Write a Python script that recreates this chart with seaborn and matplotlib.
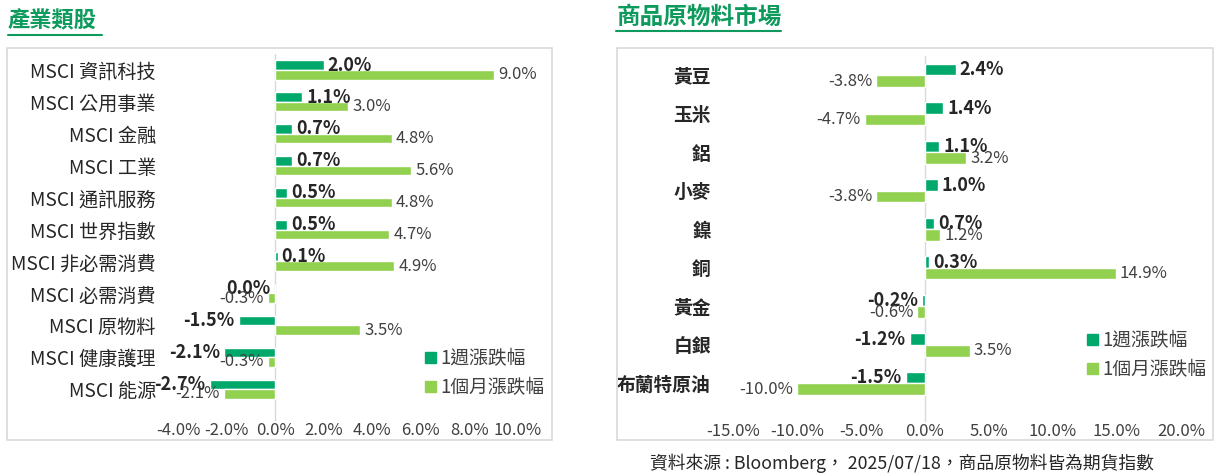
import numpy as np
import pandas as pd
import matplotlib
matplotlib.use('Agg')
import matplotlib.pyplot as plt
import seaborn as sns
from matplotlib.patches import Rectangle, Patch
from matplotlib.lines import Line2D

# data
sector_names = ['MSCI 資訊科技', 'MSCI 公用事業', 'MSCI 金融', 'MSCI 工業', 'MSCI 通訊服務',
                'MSCI 世界指數', 'MSCI 非必需消費', 'MSCI 必需消費', 'MSCI 原物料',
                'MSCI 健康護理', 'MSCI 能源']
sector_week = [2.0, 1.1, 0.7, 0.7, 0.5, 0.5, 0.1, 0.0, -1.5, -2.1, -2.7]
sector_month = [9.0, 3.0, 4.8, 5.6, 4.8, 4.7, 4.9, -0.3, 3.5, -0.3, -2.1]

comm_names = ['黃豆', '玉米', '鋁', '小麥', '鎳', '銅', '黃金', '白銀', '布蘭特原油']
comm_week = [2.4, 1.4, 1.1, 1.0, 0.7, 0.3, -0.2, -1.2, -1.5]
comm_month = [-3.8, -4.7, 3.2, -3.8, 1.2, 14.9, -0.6, 3.5, -10.0]

series_names = ['1週漲跌幅', '1個月漲跌幅']
sector_ticks = [-4, -2, 0, 2, 4, 6, 8, 10]
comm_ticks = [-15, -10, -5, 0, 5, 10, 15, 20]

c_week = '#00A86B'
c_month = '#92D050'
c_title = '#0E9A5C'
c_text = '#404040'

sns.set_style('white')
plt.rcParams['font.family'] = ['Noto Sans CJK TC', 'DejaVu Sans']

W, H = 1219, 475
fig = plt.figure(figsize=(W / 100, H / 100), dpi=100)


def px(x0, y0, x1, y1):
    # pixel box (top-left origin) -> figure fraction rect
    return [x0 / W, 1 - y1 / H, (x1 - x0) / W, (y1 - y0) / H]


def draw_panel(rect, names, week, month, ticks, lim, name_size, name_weight):
    ax = fig.add_axes(rect)
    df = pd.DataFrame({'name': names * 2,
                       'val': week + month,
                       'series': [series_names[0]] * len(names) + [series_names[1]] * len(names)})
    sns.barplot(data=df, y='name', x='val', hue='series', hue_order=series_names,
                palette=[c_week, c_month], orient='h', width=0.6, legend=False, ax=ax,
                saturation=1)
    ax.set_xlim(*lim)
    ax.set_ylim(len(names), -0.5)
    ax.axvline(0, color='#d9d9d9', lw=1, zorder=0)
    for s in ax.spines.values():
        s.set_visible(False)
    ax.set_xticks(ticks)
    ax.set_xticklabels([f'{t:.1f}%' for t in ticks], fontsize=12, color=c_text)
    ax.tick_params(axis='x', length=0, pad=1)
    ax.tick_params(axis='y', length=0, pad=16)
    for lab in ax.get_yticklabels():
        lab.set_fontsize(name_size)
        lab.set_color('#262626')
        lab.set_fontweight(name_weight)
    ax.set_xlabel('')
    ax.set_ylabel('')
    # data labels at the bar ends
    for ci, cont in enumerate(ax.containers):
        vals = week if ci == 0 else month
        for bar, v in zip(cont, vals):
            yc = bar.get_y() + bar.get_height() / 2
            x0 = bar.get_x()
            x1 = bar.get_x() + bar.get_width()
            left = v <= 0
            ax.annotate(f'{v:.1f}%', (min(x0, x1) if left else max(x0, x1), yc),
                        xytext=(-3 if left else 3, 0), textcoords='offset points',
                        ha='right' if left else 'left', va='center',
                        fontsize=13 if ci == 0 else 12,
                        fontweight='bold' if ci == 0 else 'normal',
                        color='#262626' if ci == 0 else c_text, zorder=5)
    return ax


ax1 = draw_panel(px(178, 54, 518, 421), sector_names, sector_week, sector_month,
                 sector_ticks, (-4, 10), 13.8, 'normal')
ax2 = draw_panel(px(733, 56, 1181, 422), comm_names, comm_week, comm_month,
                 comm_ticks, (-15, 20), 13.5, 'bold')

# panel frames
for x0, x1 in [(7, 552), (617, 1213)]:
    fig.patches.append(Rectangle((x0 / W, 1 - 440 / H), (x1 - x0) / W, (440 - 48) / H,
                                 transform=fig.transFigure, fill=False,
                                 edgecolor='#d9d9d9', lw=1.2))

# titles with underline
fig.text(8 / W, 1 - 20 / H, '產業類股', fontsize=16, fontweight='bold', color=c_title,
         va='center', ha='left')
fig.lines.append(Line2D([8 / W, 102 / W], [1 - 35 / H] * 2, color=c_title, lw=1.5,
                        transform=fig.transFigure))
fig.text(617 / W, 1 - 17 / H, '商品原物料市場', fontsize=17, fontweight='bold', color=c_title,
         va='center', ha='left')
fig.lines.append(Line2D([616 / W, 781 / W], [1 - 31 / H] * 2, color=c_title, lw=1.5,
                        transform=fig.transFigure))

# legends
handles = [Patch(color=c_week), Patch(color=c_month)]
for lx, ly in [(416, 339), (1078, 321)]:
    fig.legend(handles, series_names, loc='upper left', bbox_to_anchor=(lx / W, 1 - ly / H),
               frameon=False, fontsize=13.5, handlelength=0.55, handleheight=0.55,
               handletextpad=0.25, labelspacing=0.42, borderpad=0, labelcolor=c_text)

# source note
fig.text(650 / W, 1 - 463 / H, '資料來源 : Bloomberg， 2025/07/18，商品原物料皆為期貨指數',
         fontsize=12.8, color='#262626', va='center', ha='left')

fig.savefig('out.png', dpi=100)
